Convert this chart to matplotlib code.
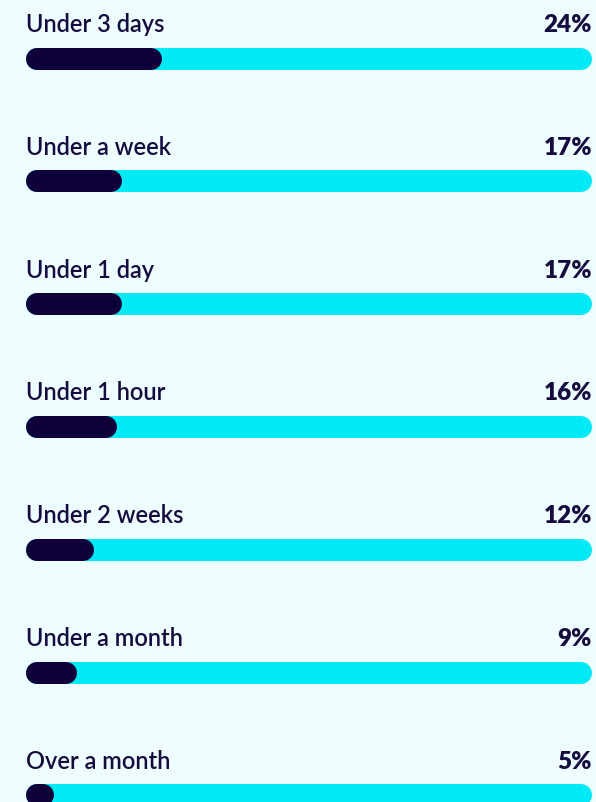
import matplotlib.pyplot as plt

# dados
categorias = ["Under 3 days", "Under a week", "Under 1 day", "Under 1 hour",
              "Under 2 weeks", "Under a month", "Over a month"]
valores = [24, 17, 17, 16, 12, 9, 5]
rotulos = ["24%", "17%", "17%", "16%", "12%", "9%", "5%"]

FUNDO = "#EEFDFF"
CIANO = "#00E9F6"
ESCURO = "#10003A"
TEXTO = "#150B3F"

W, H, DPI = 596, 802, 100
x0, x1 = 26, 592            # bordas horizontais das barras (px)
passo = 122.8               # distância entre linhas (px)
y_primeira = 58.5           # centro da primeira barra (px)
alt_barra = 22              # altura da barra (px)

plt.rcParams['font.family'] = ['Lato', 'DejaVu Sans']

fig = plt.figure(figsize=(W / DPI, H / DPI), dpi=DPI, facecolor=FUNDO)
ax = fig.add_axes([x0 / W, 0, (x1 - x0) / W, 1])
ax.set_facecolor(FUNDO)
ax.set_xlim(0, 100)
ax.set_ylim((H - y_primeira) / passo, -y_primeira / passo)
ax.axis('off')

lw = alt_barra * 72 / DPI                 # espessura em pontos
r = (alt_barra / 2) / (x1 - x0) * 100     # raio da ponta em unidades de %
desloc = 26.5 / passo                     # linha de base do texto acima da barra

for i, (cat, v, rot) in enumerate(zip(categorias, valores, rotulos)):
    ax.plot([r, 100 - r], [i, i], color=CIANO, lw=lw,
            solid_capstyle='round', clip_on=False)
    ax.plot([r, max(v - r, r + 0.01)], [i, i], color=ESCURO, lw=lw,
            solid_capstyle='round', clip_on=False)
    ax.text(0, i - desloc, cat, ha='left', va='baseline',
            fontsize=17, color=TEXTO, fontweight='semibold', clip_on=False)
    ax.text(100, i - desloc, rot, ha='right', va='baseline',
            fontsize=17.5, color=TEXTO, fontweight='heavy', clip_on=False)

fig.savefig('out.png', dpi=DPI, facecolor=FUNDO)
